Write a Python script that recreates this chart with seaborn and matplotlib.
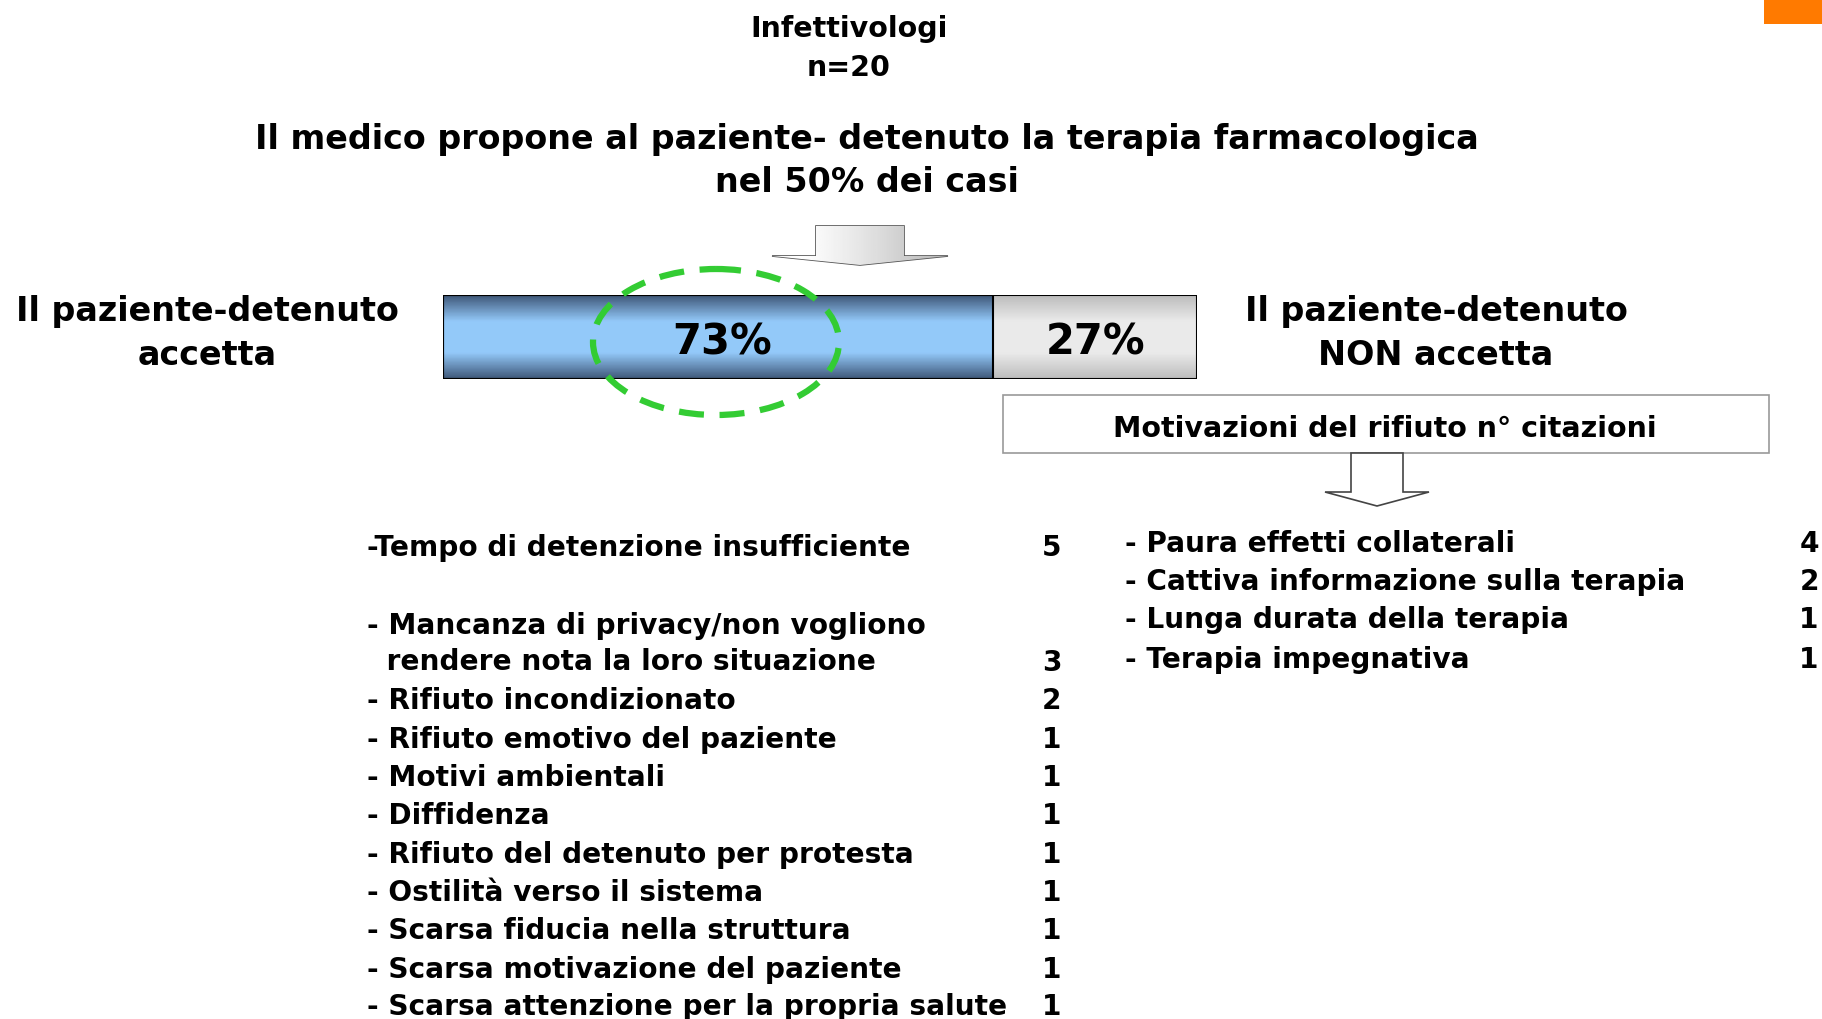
import numpy as np
import pandas as pd
import matplotlib
matplotlib.use("Agg")
import matplotlib.pyplot as plt
import seaborn as sns
from matplotlib.patches import Polygon, Rectangle, Ellipse

# --- dati ---
gruppo = "Infettivologi"
n_medici = "n=20"
titolo = ["Il medico propone al paziente- detenuto la terapia farmacologica",
          "nel 50% dei casi"]
risposte = ["accetta", "NON accetta"]
percentuali = [73, 27]
motivi_sx = ["-Tempo di detenzione insufficiente",
             "- Mancanza di privacy/non vogliono\n  rendere nota la loro situazione",
             "- Rifiuto incondizionato",
             "- Rifiuto emotivo del paziente",
             "- Motivi ambientali",
             "- Diffidenza",
             "- Rifiuto del detenuto per protesta",
             "- Ostilità verso il sistema",
             "- Scarsa fiducia nella struttura",
             "- Scarsa motivazione del paziente",
             "- Scarsa attenzione per la propria salute"]
citazioni_sx = [5, 3, 2, 1, 1, 1, 1, 1, 1, 1, 1]
motivi_dx = ["- Paura effetti collaterali",
             "- Cattiva informazione sulla terapia",
             "- Lunga durata della terapia",
             "- Terapia impegnativa"]
citazioni_dx = [4, 2, 1, 1]

sns.set_style("white")
plt.rcParams["font.family"] = ["DejaVu Sans"]
plt.rcParams["text.color"] = "black"

W, H = 1822, 1020
fig = plt.figure(figsize=(W / 100, H / 100), dpi=100)
ax = fig.add_axes([0, 0, 1, 1])
ax.set_xlim(0, W)
ax.set_ylim(H, 0)
ax.axis("off")

# angolo arancione
ax.add_patch(Rectangle((1764, 0), 60, 25, color="#ff7a00", lw=0))

big = dict(ha="center", va="center", fontsize=24, weight="bold")
# intestazioni
ax.text(849, 29, gruppo, ha="center", va="center", fontsize=20.5, weight="bold")
ax.text(849, 68, n_medici, ha="center", va="center", fontsize=20.5, weight="bold")
ax.text(867, 140, titolo[0], **big)
ax.text(867, 183, titolo[1], **big)
ax.text(207, 312, "Il paziente-detenuto", **big)
ax.text(207, 356, risposte[0], **big)
ax.text(1436, 312, "Il paziente-detenuto", **big)
ax.text(1436, 356, risposte[1], **big)

# freccia in alto (gradiente)
arrow1 = Polygon([(816, 227), (904, 227), (904, 257), (948, 257), (860, 266),
                  (772, 257), (816, 257)], closed=True, fc="none", ec="#555555", lw=1.2)
ax.add_patch(arrow1)
grad = np.linspace(0, 1, 100)
grad = 1 - 0.35 * np.abs(grad - 0.15) ** 1.2
im = ax.imshow(np.tile(grad, (10, 1)), cmap="gray", vmin=0, vmax=1,
               extent=(772, 948, 266, 227), aspect="auto", zorder=1)
im.set_clip_path(arrow1)

# box motivazioni
ax.add_patch(Rectangle((1003, 396), 766, 58, fc="white", ec="#999999", lw=1.2))
ax.text(1385, 429, "Motivazioni del rifiuto n° citazioni", ha="center", va="center",
        fontsize=20.5, weight="bold")
ax.add_patch(Polygon([(1351, 454), (1403, 454), (1403, 493), (1429, 493), (1377, 507),
                      (1325, 493), (1351, 493)], closed=True, fc="white", ec="#444444", lw=1.2))

# elenchi
fs = 20.2
y_sx = [548, 644, 701, 740, 778, 816, 855, 893, 931, 970, 1007]
for lab, val, y in zip(motivi_sx, citazioni_sx, y_sx):
    ax.text(367, y, lab, ha="left", va="center", fontsize=fs, weight="bold", linespacing=1.35)
    yy = y + 19 if "\n" in lab else y
    ax.text(1052, yy, str(val), ha="center", va="center", fontsize=fs, weight="bold")
y_dx = [544, 582, 620, 660]
for lab, val, y in zip(motivi_dx, citazioni_dx, y_dx):
    ax.text(1125, y, lab, ha="left", va="center", fontsize=fs, weight="bold")
    ax.text(1809, y, str(val), ha="center", va="center", fontsize=fs, weight="bold")

# barra 100% con seaborn
bx = fig.add_axes([443 / W, 1 - 380 / H, 754 / W, 84 / H])
df = pd.DataFrame({"risposta": ["tot"], "valore": [100]})
sns.barplot(data=df, x="valore", y="risposta", color="#d0d0d0", width=1, ax=bx,
            edgecolor="black", linewidth=1.5, orient="h")
df2 = pd.DataFrame({"risposta": ["tot"], "valore": [percentuali[0]]})
sns.barplot(data=df2, x="valore", y="risposta", color="#7fb0e0", width=1, ax=bx,
            edgecolor="black", linewidth=1.5, orient="h")
bx.set_xlim(0, 100)
bx.set_ylim(0.5, -0.5)
bx.axis("off")

t = np.linspace(0, 1, 60)
prof = 1 - np.abs(t - 0.5) * 2
blue_dark, blue_light = np.array([0.25, 0.35, 0.48]), np.array([0.58, 0.79, 0.98])
gray_dark, gray_light = np.array([0.74, 0.74, 0.74]), np.array([0.92, 0.92, 0.92])
patches = list(bx.patches)
for p, (c0, c1) in zip(patches, [(gray_dark, gray_light), (blue_dark, blue_light)]):
    f = np.clip(prof * 1.6, 0, 1)[:, None]
    img = (c0 + (c1 - c0) * f)[:, None, :]
    x0, y0 = p.get_x(), p.get_y()
    im = bx.imshow(np.repeat(img, 2, axis=1), extent=(x0, x0 + p.get_width(), y0 + p.get_height(), y0),
                   aspect="auto", zorder=p.get_zorder() + 0.1)
    im.set_clip_path(p)
    bx.add_patch(Rectangle((x0, y0), p.get_width(), p.get_height(), fc="none",
                           ec="black", lw=1.5, zorder=5))
bx.set_xlim(0, 100)
bx.set_ylim(0.5, -0.5)

bx.text(percentuali[0] / 2 + 0.5, 0.05, f"{percentuali[0]}%", ha="center", va="center",
        fontsize=30, weight="bold", zorder=6)
bx.text(percentuali[0] + percentuali[1] / 2, 0.05, f"{percentuali[1]}%", ha="center", va="center",
        fontsize=30, weight="bold", zorder=6)

# ellisse tratteggiata verde
ax.add_patch(Ellipse((716, 343), 246, 146, fill=False, ec="#33cc33", lw=4.5,
                     linestyle=(0, (4, 2.5)), zorder=10))
ax.set_zorder(2)
ax.patch.set_alpha(0)

fig.savefig("out.png", dpi=100)
